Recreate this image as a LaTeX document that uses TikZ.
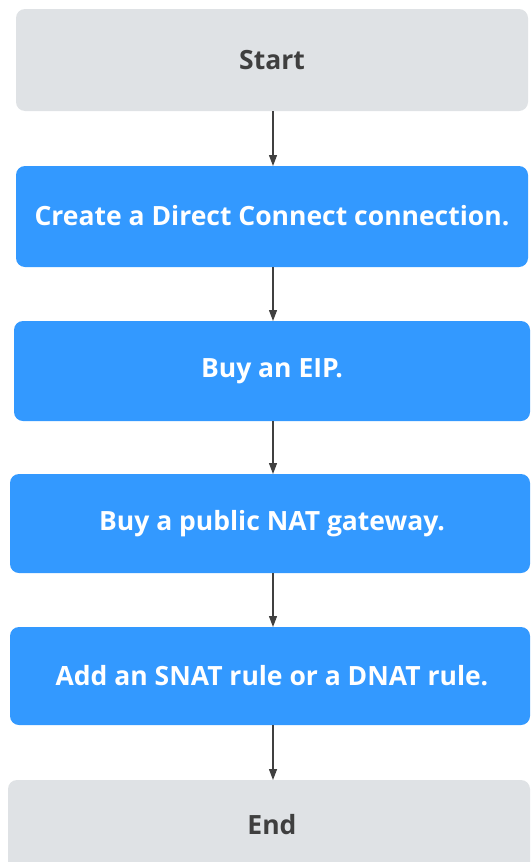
\documentclass[tikz,border=0pt]{standalone}
\usepackage{fontspec}
\setmainfont{Open Sans}
\usetikzlibrary{arrows.meta}
\definecolor{boxgray}{HTML}{DFE2E5}
\definecolor{boxblue}{HTML}{3399FF}
\definecolor{txtgray}{HTML}{3F3F3F}
\definecolor{arrgray}{HTML}{404040}
\begin{document}
\begin{tikzpicture}[x=1pt,y=-1pt,
  graybox/.style={fill=boxgray,rounded corners=9pt},
  bluebox/.style={fill=boxblue,rounded corners=9pt},
  graytext/.style={text=txtgray,font=\fontsize{26.5}{30}\selectfont\bfseries},
  bluetext/.style={text=white,font=\fontsize{26.5}{30}\selectfont\bfseries},
  flow/.style={draw=arrgray,line width=1.3pt,-{Triangle[length=11pt,width=8pt]}}]
\useasboundingbox (0,0) rectangle (531,862);
\path[graybox] (16,9) rectangle (528,111);
\node[graytext] (start) at (272,60) {Start};
\coordinate (startb) at (273,111);
\path[bluebox] (16,166) rectangle (528,267);
\node[bluetext] (create) at (272,216) {Create a Direct Connect connection.};
\coordinate (createt) at (273,166);
\coordinate (createb) at (273,267);
\path[bluebox] (14,321) rectangle (530,421);
\node[bluetext] (eip) at (272,371) {Buy an EIP.};
\coordinate (eipt) at (273,321);
\coordinate (eipb) at (273,421);
\path[bluebox] (10,474) rectangle (530,573);
\node[bluetext] (nat) at (272,524) {Buy a public NAT gateway.};
\coordinate (natt) at (273,474);
\coordinate (natb) at (273,573);
\path[bluebox] (10,627) rectangle (530,725);
\node[bluetext] (snat) at (272,676) {Add an SNAT rule or a DNAT rule.};
\coordinate (snatt) at (273,627);
\coordinate (snatb) at (273,725);
\path[graybox] (8,780) rectangle (530,880);
\node[graytext] (end) at (272,825) {End};
\coordinate (endt) at (273,780);
\draw[flow] (startb) -- (createt);
\draw[flow] (createb) -- (eipt);
\draw[flow] (eipb) -- (natt);
\draw[flow] (natb) -- (snatt);
\draw[flow] (snatb) -- (endt);
\end{tikzpicture}
\end{document}
